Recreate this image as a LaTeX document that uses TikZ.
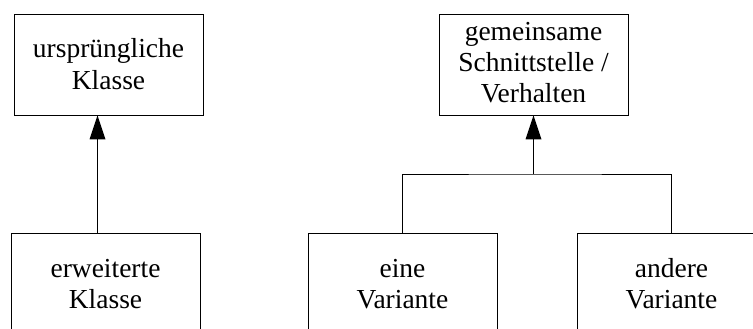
\documentclass[tikz,border=0pt]{standalone}
\usepackage{fontspec}
\setmainfont{Liberation Serif}
\newfontfamily\timesfont{Liberation Serif}
\begin{document}
\begin{tikzpicture}[x=1pt,y=-1pt,
  box/.style={draw,line width=0.8pt,rectangle,minimum width=189pt,minimum height=101pt,inner sep=0pt},
  txt/.style={anchor=base,inner sep=0pt,font=\timesfont\fontsize{27.5}{31}\selectfont},
  link/.style={draw,line width=0.8pt},
  head/.style={fill}]
\useasboundingbox (0,0) rectangle (753,329);
\node[box] (A) at (108.5,64.5) {};
\node[box] (B) at (105.5,283.5) {};
\node[box] (C) at (533.5,64.5) {};
\node[box] (D) at (402.5,283.5) {};
\node[box] (E) at (671.5,283.5) {};
\node[txt] (a1) at ([yshift=6.5pt]A.center) {ursprüngliche};
\node[txt] (a2) at ([yshift=-24.5pt]A.center) {Klasse};
\node[txt] (b1) at ([yshift=6.5pt]B.center) {erweiterte};
\node[txt] (b2) at ([yshift=-24.5pt]B.center) {Klasse};
\node[txt] (c1) at ([yshift=24pt]C.center) {gemeinsame};
\node[txt] (c2) at ([yshift=-7pt]C.center) {Schnittstelle /};
\node[txt] (c3) at ([yshift=-38pt]C.center) {Verhalten};
\node[txt] (d1) at ([yshift=6.5pt]D.center) {eine};
\node[txt] (d2) at ([yshift=-24.5pt]D.center) {Variante};
\node[txt] (e1) at ([yshift=6.5pt]E.center) {andere};
\node[txt] (e2) at ([yshift=-24.5pt]E.center) {Variante};
\coordinate (T1) at ([xshift=-8pt]B.north |- A.south);
\draw[link] ([xshift=-8pt]B.north) -- ([yshift=-23pt]T1);
\fill[head] (T1) -- ++(-8,24) -- ++(16,0) -- cycle;
\coordinate (J) at (C.south |- 0,174);
\draw[link] (D.north) |- (J) -| (E.north);
\draw[link] (J) -- ([yshift=-23pt]C.south);
\fill[head] (C.south) -- ++(-8,24) -- ++(16,0) -- cycle;
\end{tikzpicture}
\end{document}
